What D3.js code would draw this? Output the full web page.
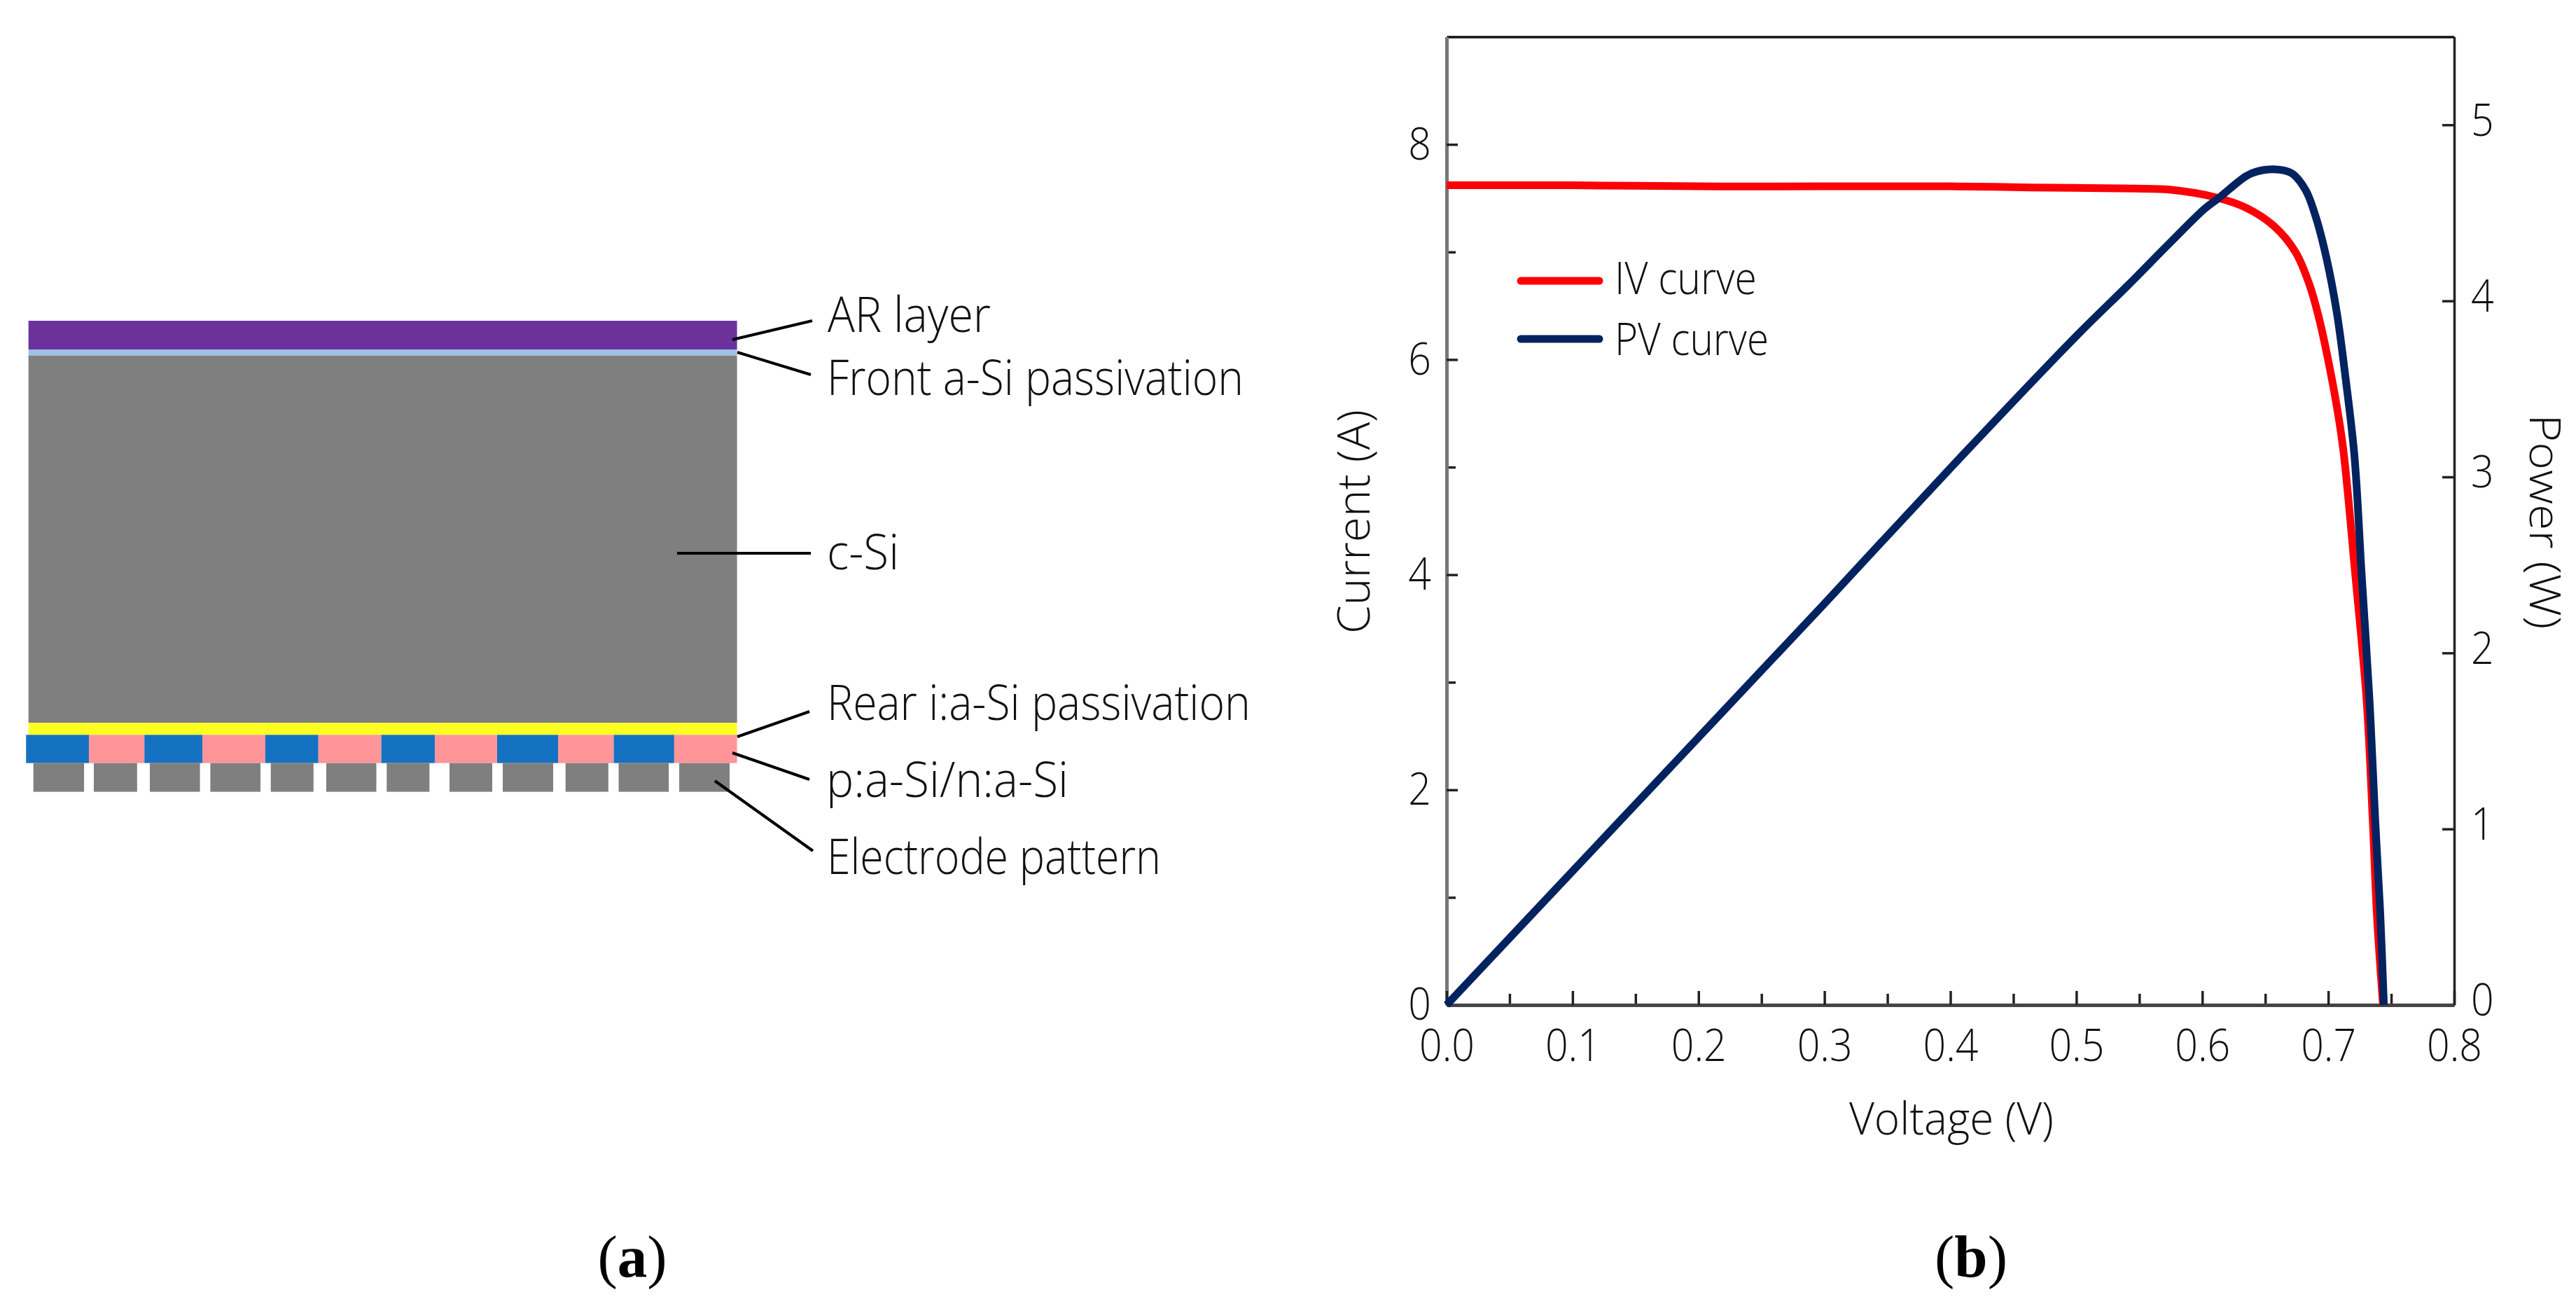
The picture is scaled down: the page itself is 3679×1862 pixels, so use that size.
<!DOCTYPE html>
<html>
<head>
<meta charset="utf-8">
<script src="https://cdn.jsdelivr.net/npm/d3@7"></script>
<style>
  body { margin: 0; background: #fff; }
  text { font-family: "Open Sans", sans-serif; font-weight: 300; fill: #111; }
  .caption { font-family: "Liberation Serif", serif; font-weight: 400; fill: #000; }
</style>
</head>
<body>
<div id="vis"></div>
<script>
// Panel b values
var ivVoltage = [0, 0.1, 0.2, 0.3, 0.4, 0.464, 0.547, 0.574, 0.61, 0.635, 0.657, 0.674, 0.685, 0.693, 0.7014, 0.7083, 0.7125, 0.7215, 0.7305, 0.7353, 0.7387, 0.7435];
var ivCurrent = [7.62, 7.62, 7.61, 7.61, 7.61, 7.6, 7.59, 7.58, 7.51, 7.41, 7.24, 7.0, 6.7, 6.37, 5.91, 5.46, 5.11, 4.0, 2.83, 1.73, 0.83, 0];
var pvVoltage = [0, 0.1, 0.2, 0.3, 0.4, 0.5, 0.5412, 0.5744, 0.602, 0.613, 0.635, 0.6434, 0.657, 0.671, 0.682, 0.69, 0.6987, 0.7069, 0.7138, 0.7208, 0.7265, 0.7328, 0.7373, 0.7414, 0.7442];
var pvPower = [0, 0.76, 1.52, 2.28, 3.05, 3.8, 4.09, 4.33, 4.524, 4.584, 4.71, 4.735, 4.747, 4.725, 4.63, 4.48, 4.24, 3.93, 3.56, 3.12, 2.45, 1.729, 1.053, 0.505, 0];

var voltageTicks = [0, 0.1, 0.2, 0.3, 0.4, 0.5, 0.6, 0.7, 0.8];
var voltageMinorTicks = [0.05, 0.15, 0.25, 0.35, 0.45, 0.55, 0.65, 0.75];
var currentTicks = [0, 2, 4, 6, 8];
var currentMinorTicks = [1, 3, 5, 7];
var powerTicks = [0, 1, 2, 3, 4, 5];
var legendNames = ["IV curve", "PV curve"];

// Panel a: layer stack, top to bottom, thickness in schematic units
var layerThickness = [41, 8.7, 524.6, 17];
var layerColors = ["#6d319c", "#9dc3e6", "#7f7f7f", "#ffff21"];
var dopedThickness = 40.3;
var electrodeThickness = 41;
// doped strip edges, % of the cell width, blue and pink take turns
var dopedEdges = [0, 8.84, 16.65, 24.8, 33.66, 41.12, 49.97, 57.49, 66.26, 74.83, 82.66, 91.16, 100];
var electrodeStart = [1.03, 9.53, 17.41, 25.92, 34.42, 42.23, 50.73, 59.56, 67.05, 75.88, 83.35, 91.87];
var electrodeEnd = [8.16, 15.62, 24.46, 32.97, 40.43, 49.27, 56.74, 65.57, 74.14, 81.9, 90.4, 98.96];
var layerNames = ["AR layer", "Front a-Si passivation", "c-Si", "Rear i:a-Si passivation", "p:a-Si/n:a-Si", "Electrode pattern"];

var width = 3679, height = 1862;
var svg = d3.select("#vis").append("svg")
    .attr("width", width)
    .attr("height", height)
    .style("display", "block");

/* Squeeze a text to a share of its natural width, the source font is narrow */
function squeeze(sel, k){
    sel.each(function(){
        var len = this.getComputedTextLength();
        d3.select(this).attr("textLength", len*k).attr("lengthAdjust", "spacingAndGlyphs");
    });
}
function fit(sel, w){
    sel.attr("textLength", w).attr("lengthAdjust", "spacingAndGlyphs");
}

/* ---- Panel a ---- */
var cellX = d3.scaleLinear().domain([0, 100]).range([37.2, 1052.6]);
var cellY = d3.scaleLinear().domain([0, 672]).range([458, 1130]);
var stackTop = d3.cumsum([0].concat(layerThickness));

var panelA = svg.append("g");
panelA.selectAll(".layer")
    .data(layerThickness)
    .enter().append("rect")
    .attr("class", "layer")
    .attr("x", cellX(0.34))
    .attr("width", cellX(100)-cellX(0.34))
    .attr("y", function(d, i){ return cellY(stackTop[i]); })
    .attr("height", function(d){ return cellY(d)-cellY(0); })
    .attr("fill", function(d, i){ return layerColors[i]; });

var dopedTop = stackTop[stackTop.length-1];
panelA.selectAll(".doped")
    .data(d3.pairs(dopedEdges))
    .enter().append("rect")
    .attr("class", "doped")
    .attr("x", function(d){ return cellX(d[0]); })
    .attr("width", function(d){ return cellX(d[1])-cellX(d[0]); })
    .attr("y", cellY(dopedTop))
    .attr("height", cellY(dopedThickness)-cellY(0))
    .attr("fill", function(d, i){ return i%2 ? "#ff9599" : "#1571c1"; });

panelA.selectAll(".electrode")
    .data(electrodeStart)
    .enter().append("rect")
    .attr("class", "electrode")
    .attr("x", function(d){ return cellX(d); })
    .attr("width", function(d, i){ return cellX(electrodeEnd[i])-cellX(d); })
    .attr("y", cellY(dopedTop+dopedThickness))
    .attr("height", cellY(electrodeThickness)-cellY(0))
    .attr("fill", "#7f7f7f");

// label placement, one line per name
var labelLayout = [
    {x: 1182, y: 474, w: 233, line: [1046, 485, 1160, 458]},
    {x: 1181, y: 564, w: 595, line: [1053, 503, 1158, 535]},
    {x: 1181, y: 813, w: 103, line: [967, 790, 1158, 790]},
    {x: 1181, y: 1028, w: 605, line: [1053, 1052, 1156, 1016]},
    {x: 1180, y: 1138, w: 346, line: [1046, 1075, 1156, 1113]},
    {x: 1181, y: 1248, w: 477, line: [1021, 1115, 1161, 1215]}
];
panelA.selectAll(".leader")
    .data(labelLayout)
    .enter().append("line")
    .attr("class", "leader")
    .attr("x1", function(d){ return d.line[0]; })
    .attr("y1", function(d){ return d.line[1]; })
    .attr("x2", function(d){ return d.line[2]; })
    .attr("y2", function(d){ return d.line[3]; })
    .attr("stroke", "#000")
    .attr("stroke-width", 4);
panelA.selectAll(".layer_name")
    .data(layerNames)
    .enter().append("text")
    .attr("class", "layer_name")
    .attr("x", function(d, i){ return labelLayout[i].x; })
    .attr("y", function(d, i){ return labelLayout[i].y; })
    .attr("font-size", 70)
    .attr("textLength", function(d, i){ return labelLayout[i].w; })
    .attr("lengthAdjust", "spacingAndGlyphs")
    .text(function(d){ return d; });

/* ---- Panel b ---- */
var left = 2066, right = 3505, top_ = 52.6, bottom = 1435;
var x = d3.scaleLinear().domain([0, 0.8]).range([left, right]);
var yCurrent = d3.scaleLinear().domain([0, 9]).range([bottom, top_]);
var yPower = d3.scaleLinear().domain([0, 5.5]).range([bottom, top_]);

var panelB = svg.append("g");

function styleAxis(g, color, w){
    g.selectAll(".domain").attr("stroke", color).attr("stroke-width", w);
    g.selectAll(".tick line").attr("stroke", "#222").attr("stroke-width", 3.5);
    g.selectAll("text").attr("font-family", null).attr("font-size", 65).style("fill", "#111");
}

panelB.append("g")
    .attr("transform", "translate(0," + top_ + ")")
    .call(d3.axisTop(x).tickValues([]).tickSizeOuter(0))
    .call(styleAxis, "#111", 3.5);

var leftMinor = panelB.append("g").attr("transform", "translate(" + left + ",0)")
    .call(d3.axisLeft(yCurrent).tickValues(currentMinorTicks).tickSize(-13).tickFormat("").tickSizeOuter(0))
    .call(styleAxis, "#777", 5);
var leftMajor = panelB.append("g").attr("transform", "translate(" + left + ",0)")
    .call(d3.axisLeft(yCurrent).tickValues(currentTicks).tickSize(-16).tickPadding(22).tickFormat(d3.format("d")).tickSizeOuter(0))
    .call(styleAxis, "#777", 5);
leftMajor.selectAll("text").call(squeeze, 0.88);

panelB.append("g").attr("transform", "translate(" + right + ",0)")
    .call(d3.axisRight(yPower).tickValues(powerTicks).tickSize(-17).tickPadding(24).tickFormat(d3.format("d")).tickSizeOuter(0))
    .call(styleAxis, "#222", 3.5)
    .selectAll("text").attr("y", -6).call(squeeze, 0.88);

panelB.append("g").attr("transform", "translate(0," + bottom + ")")
    .call(d3.axisBottom(x).tickValues(voltageMinorTicks).tickSize(-16).tickFormat("").tickSizeOuter(0))
    .call(styleAxis, "#444", 5);
var bottomMajor = panelB.append("g").attr("transform", "translate(0," + bottom + ")")
    .call(d3.axisBottom(x).tickValues(voltageTicks).tickSize(-20).tickPadding(34).tickFormat(d3.format(".1f")).tickSizeOuter(0))
    .call(styleAxis, "#444", 5);
bottomMajor.selectAll("text").call(squeeze, 0.88);

// Curves
var ivLine = d3.line()
    .x(function(d){ return x(d[0]); })
    .y(function(d){ return yCurrent(d[1]); })
    .curve(d3.curveCatmullRom);
var pvLine = d3.line()
    .x(function(d){ return x(d[0]); })
    .y(function(d){ return yPower(d[1]); })
    .curve(d3.curveCatmullRom);

panelB.append("path")
    .datum(d3.zip(ivVoltage, ivCurrent))
    .attr("d", ivLine)
    .attr("fill", "none")
    .attr("stroke", "#fb0007")
    .attr("stroke-width", 11);
panelB.append("path")
    .datum(d3.zip(pvVoltage, pvPower))
    .attr("d", pvLine)
    .attr("fill", "none")
    .attr("stroke", "#02235f")
    .attr("stroke-width", 11);

// Legend
var legendLayout = [{y: 401, base: 420, w: 203, color: "#fb0007"}, {y: 484, base: 507, w: 220, color: "#02235f"}];
panelB.selectAll(".legend_line")
    .data(legendLayout)
    .enter().append("line")
    .attr("class", "legend_line")
    .attr("x1", 2172).attr("x2", 2284)
    .attr("y1", function(d){ return d.y; })
    .attr("y2", function(d){ return d.y; })
    .attr("stroke", function(d){ return d.color; })
    .attr("stroke-width", 11)
    .attr("stroke-linecap", "round");
panelB.selectAll(".legend_name")
    .data(legendNames)
    .enter().append("text")
    .attr("class", "legend_name")
    .attr("x", 2306)
    .attr("y", function(d, i){ return legendLayout[i].base; })
    .attr("font-size", 65)
    .attr("textLength", function(d, i){ return legendLayout[i].w; })
    .attr("lengthAdjust", "spacingAndGlyphs")
    .text(function(d){ return d; });

// Axis titles
panelB.append("text")
    .attr("x", 2787).attr("y", 1620)
    .attr("text-anchor", "middle")
    .attr("font-size", 64)
    .text("Voltage (V)")
    .call(fit, 292);
panelB.append("text")
    .attr("transform", "translate(1956,745) rotate(-90)")
    .attr("text-anchor", "middle")
    .attr("font-size", 64)
    .text("Current (A)")
    .call(fit, 320);
panelB.append("text")
    .attr("transform", "translate(3613,745) rotate(90)")
    .attr("text-anchor", "middle")
    .attr("font-size", 60)
    .text("Power (W)")
    .call(fit, 307);

// Captions
[["a", 903], ["b", 2815]].forEach(function(c){
    var t = svg.append("text")
        .attr("class", "caption")
        .attr("x", c[1]).attr("y", 1823)
        .attr("text-anchor", "middle")
        .attr("font-size", 85);
    t.append("tspan").text("(");
    t.append("tspan").attr("font-weight", "bold").text(c[0]);
    t.append("tspan").text(")");
});
</script>
</body>
</html>
